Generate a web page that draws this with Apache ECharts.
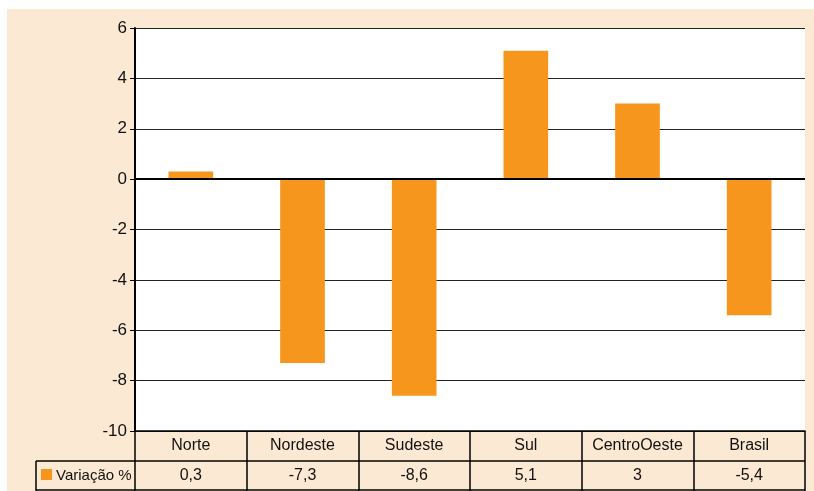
<!DOCTYPE html>
<html>
<head>
<meta charset="utf-8">
<script src="https://cdn.jsdelivr.net/npm/echarts@6/dist/echarts.min.js"></script>
<style>
  html, body { margin: 0; padding: 0; background: #fff; }
  #main { width: 814px; height: 491px; }
</style>
</head>
<body>
<div id="main"></div>
<script>
// variação % por região
const regioes = ['Norte', 'Nordeste', 'Sudeste', 'Sul', 'Centro-Oeste', 'Brasil'];
const variacao = [0.3, -7.3, -8.6, 5.1, 3, -5.4];
const serieNome = 'Variação %';

const cream = '#FCE9D4';
const orange = '#F7961D';
const gridLeft = 135, gridRight = 9, gridTop = 28, gridBottom = 60;
const W = 814, H = 491;
const axisY = H - gridBottom;

const fmt = v => String(v).replace('.', ',');
const valorPorRegiao = {};
regioes.forEach((r, i) => { valorPorRegiao[r] = fmt(variacao[i]); });

const chart = echarts.init(document.getElementById('main'));

const option = {
    backgroundColor: '#fff',
    animation: false,
    textStyle: { fontFamily: 'Liberation Sans, Arial, sans-serif' },
    grid: {
        left: gridLeft, right: gridRight, top: gridTop, bottom: gridBottom,
        show: true, backgroundColor: '#fff', borderWidth: 0
    },
    graphic: [
        { type: 'rect', z: -10, silent: true,
          shape: { x: 7, y: 9, width: W - 7, height: H - 9 },
          style: { fill: cream } },
        // linhas da tabela
        { type: 'line', z: 100, shape: { x1: 36, y1: axisY + 30, x2: W - gridRight, y2: axisY + 30 },
          style: { stroke: '#000', lineWidth: 1.5 } },
        { type: 'line', z: 100, shape: { x1: 36, y1: H - 1, x2: W - gridRight, y2: H - 1 },
          style: { stroke: '#000', lineWidth: 1.5 } },
        { type: 'line', z: 100, shape: { x1: 36, y1: axisY + 30, x2: 36, y2: H },
          style: { stroke: '#000', lineWidth: 1.5 } },
        { type: 'rect', z: 100, shape: { x: 41, y: 469, width: 11, height: 11 },
          style: { fill: orange } },
        { type: 'text', z: 100, x: 56, y: axisY + 45,
          style: { text: serieNome, fontSize: 15, fill: '#111', verticalAlign: 'middle',
                   fontFamily: 'Liberation Sans, Arial, sans-serif' } }
    ],
    xAxis: {
        type: 'category',
        data: regioes,
        position: 'bottom',
        axisLine: { onZero: false, lineStyle: { color: '#000', width: 1.5 } },
        axisTick: { show: true, alignWithLabel: false, interval: 0, length: 60,
                    lineStyle: { color: '#000', width: 1.5 } },
        axisLabel: {
            interval: 0, margin: 0,
            formatter: v => '{c|' + (v === 'Centro-Oeste' ? 'CentroOeste' : v) + '}\n{v|' + valorPorRegiao[v] + '}',
            rich: {
                c: { fontSize: 16, color: '#111', lineHeight: 30, align: 'center' },
                v: { fontSize: 16, color: '#111', lineHeight: 30, align: 'center' }
            }
        }
    },
    yAxis: {
        type: 'value',
        min: -10, max: 6, interval: 2,
        axisLine: { show: true, lineStyle: { color: '#000', width: 2 } },
        axisTick: { show: true, length: 5, lineStyle: { color: '#000' } },
        axisLabel: { fontSize: 17, color: '#111', margin: 8 },
        splitLine: { show: true, lineStyle: { color: '#222', width: 1.2 } }
    },
    series: [{
        name: serieNome,
        type: 'bar',
        data: variacao,
        barWidth: '40%',
        itemStyle: { color: orange },
        markLine: {
            silent: true, symbol: 'none', label: { show: false },
            lineStyle: { color: '#000', width: 2, type: 'solid' },
            data: [{ yAxis: 0 }]
        }
    }]
};

chart.setOption(option);
window.onresize = () => { chart.resize(); };
</script>
</body>
</html>
